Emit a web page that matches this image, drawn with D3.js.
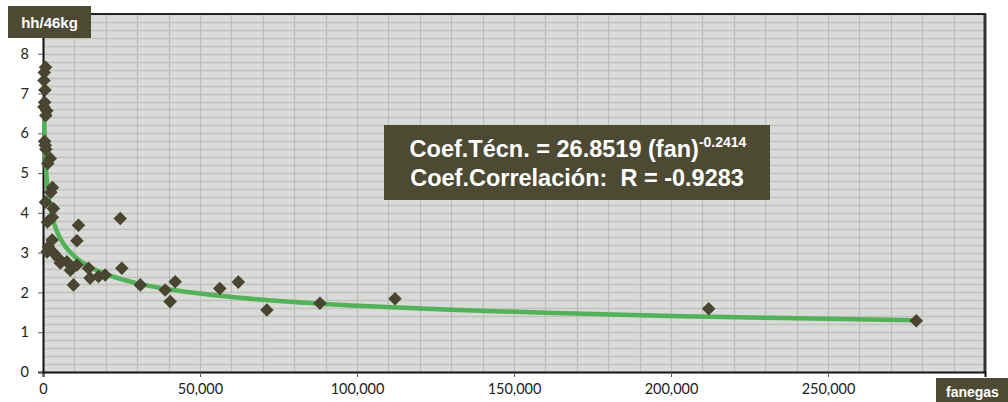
<!DOCTYPE html>
<html>
<head>
<meta charset="utf-8">
<script src="https://cdn.jsdelivr.net/npm/d3@7"></script>
<style>
  body { margin: 0; background: #ffffff; }
  .tick text { font-family: "Lato", "DejaVu Sans", sans-serif; font-size: 14.5px; fill: #222; }
  .box-text { font-family: "Liberation Sans", Arial, sans-serif; font-weight: bold; fill: #ffffff; }
</style>
</head>
<body>
<div class="container"></div>
<script>
const WIDTH = 1008;
const HEIGHT = 402;
const MARGIN_LEFT = 43;
const MARGIN_TOP = 14;
const MARGIN_RIGHT = 23;
const MARGIN_BOTTOM = 30;

const INNER_WIDTH = WIDTH - MARGIN_LEFT - MARGIN_RIGHT;
const INNER_HEIGHT = HEIGHT - MARGIN_TOP - MARGIN_BOTTOM;

// farm size (fanegas) and labour coefficient (hh/46kg)
var fanegas = [
    800, 400, 300, 600, 500, 300, 1200, 900,
    500, 700, 900, 2300, 1500,
    3000, 2500, 800, 3300, 3000, 1400,
    11300, 10800, 24600, 2900, 1700, 1300, 3400, 4900, 5500, 7600, 8700,
    10800, 9700, 14500, 15000, 17700, 19800, 25100, 31000,
    40500, 42100, 38900, 56300, 62200, 71300, 88200, 112100,
    212000, 278100
];
var coefTecn = [
    7.66, 7.53, 7.33, 7.09, 6.78, 6.66, 6.57, 6.45,
    5.80, 5.70, 5.60, 5.37, 5.24,
    4.64, 4.52, 4.27, 4.11, 3.89, 3.77,
    3.69, 3.30, 3.86, 3.32, 3.15, 3.02, 2.99, 2.86, 2.74, 2.77, 2.56,
    2.69, 2.19, 2.61, 2.36, 2.40, 2.44, 2.61, 2.19,
    1.77, 2.27, 2.06, 2.10, 2.26, 1.56, 1.73, 1.84,
    1.59, 1.29
];

// power trendline printed on the chart: 26.8519 * fan^-0.2414
const TREND_A = 26.8519;
const TREND_B = -0.2414;
var trendFanegas = [400, 600, 800, 1000, 1500, 2000, 3000, 4000, 5000, 7000, 10000, 14000,
    20000, 30000, 40000, 60000, 80000, 100000, 130000, 160000, 200000, 240000, 278100];

var xTicks = [0, 50000, 100000, 150000, 200000, 250000];
var yTicks = [0, 1, 2, 3, 4, 5, 6, 7, 8];

var xScale = d3.scaleLinear()
    .domain([0, 300000])
    .range([0, INNER_WIDTH]);

var yScale = d3.scaleLinear()
    .domain([0, 9])
    .range([INNER_HEIGHT, 0]);

var translate = function(x, y){
    return "translate(" + x + "," + y + ")";
};

var loadChart = function(){

    var svg = d3.select('.container').append('svg')
        .attr('width', WIDTH)
        .attr('height', HEIGHT);

    var plot = svg.append('g')
        .attr('transform', translate(MARGIN_LEFT, MARGIN_TOP));

    plot.append('rect')
        .attr('width', INNER_WIDTH)
        .attr('height', INNER_HEIGHT)
        .attr('fill', '#d8dbd7');

    // minor grid
    plot.append('g').selectAll('line.h')
        .data(d3.range(0.2, 9.01, 0.2))
        .enter().append('line')
        .attr('x1', 0).attr('x2', INNER_WIDTH)
        .attr('y1', function(d){ return Math.round(yScale(d)) + 0.5; })
        .attr('y2', function(d){ return Math.round(yScale(d)) + 0.5; })
        .attr('stroke', '#c0c1be').attr('stroke-width', 1.3);

    plot.append('g').selectAll('line.v')
        .data(d3.range(10000, 300000, 10000))
        .enter().append('line')
        .attr('y1', 0).attr('y2', INNER_HEIGHT)
        .attr('x1', function(d){ return Math.round(xScale(d)) + 0.5; })
        .attr('x2', function(d){ return Math.round(xScale(d)) + 0.5; })
        .attr('stroke', '#bcbdba').attr('stroke-width', 1.2);

    // frame top & right
    plot.append('line')
        .attr('x1', 0).attr('x2', INNER_WIDTH + 1)
        .attr('y1', 0).attr('y2', 0)
        .attr('stroke', '#222').attr('stroke-width', 2);
    plot.append('line')
        .attr('x1', INNER_WIDTH).attr('x2', INNER_WIDTH)
        .attr('y1', 0).attr('y2', INNER_HEIGHT)
        .attr('stroke', '#333').attr('stroke-width', 3);

    var xAxis = d3.axisBottom(xScale).tickValues(xTicks)
        .tickFormat(d3.format(',')).tickSize(5).tickPadding(7);
    var yAxis = d3.axisLeft(yScale).tickValues(yTicks)
        .tickSize(5).tickPadding(9);

    var gx = plot.append('g')
        .attr('transform', translate(0, INNER_HEIGHT))
        .call(xAxis);
    var gy = plot.append('g').call(yAxis);

    [gx, gy].forEach(function(g){
        g.select('.domain').attr('stroke', '#111').attr('stroke-width', 2);
        g.selectAll('.tick line').attr('stroke', '#555');
    });

    // trendline
    var line = d3.line()
        .x(function(d){ return xScale(d); })
        .y(function(d){ return yScale(TREND_A * Math.pow(d, TREND_B)); })
        .curve(d3.curveMonotoneX);

    plot.append('path')
        .datum(trendFanegas)
        .attr('d', line)
        .attr('fill', 'none')
        .attr('stroke', '#53b257')
        .attr('stroke-width', 4.5);

    // points
    var points = fanegas.map(function(f, i){ return {x: f, y: coefTecn[i]}; });
    var diamond = d3.symbol().type(d3.symbolSquare).size(92);

    plot.append('g').selectAll('path.dot')
        .data(points)
        .enter().append('path')
        .attr('d', diamond)
        .attr('fill', '#4a4530')
        .attr('transform', function(d){
            return translate(xScale(d.x), yScale(d.y)) + " rotate(45)";
        });

    // axis title boxes
    svg.append('rect')
        .attr('x', 8).attr('y', 6).attr('width', 83).attr('height', 32)
        .attr('fill', '#4d4a34');
    svg.append('text')
        .attr('class', 'box-text')
        .attr('x', 49.5).attr('y', 28)
        .attr('text-anchor', 'middle')
        .attr('font-size', 15)
        .text('hh/46kg');

    svg.append('rect')
        .attr('x', 936).attr('y', 378).attr('width', 80).attr('height', 26)
        .attr('fill', '#4d4a34');
    svg.append('text')
        .attr('class', 'box-text')
        .attr('x', 946).attr('y', 397)
        .attr('font-size', 14)
        .text('fanegas');

    // equation box
    svg.append('rect')
        .attr('x', 384).attr('y', 125).attr('width', 386).attr('height', 75)
        .attr('fill', '#4d4a34');

    var eq = svg.append('text')
        .attr('class', 'box-text')
        .attr('x', 578).attr('y', 157)
        .attr('text-anchor', 'middle')
        .attr('font-size', 23.5);
    eq.append('tspan').text('Coef.Técn. = 26.8519 (fan)');
    eq.append('tspan').attr('font-size', 14).attr('dy', -10).text('-0.2414');

    svg.append('text')
        .attr('class', 'box-text')
        .attr('x', 577).attr('y', 186)
        .attr('text-anchor', 'middle')
        .attr('font-size', 23.5)
        .attr('xml:space', 'preserve')
        .text('Coef.Correlación:  R = -0.9283');
};

window.onload = loadChart;
</script>
</body>
</html>
